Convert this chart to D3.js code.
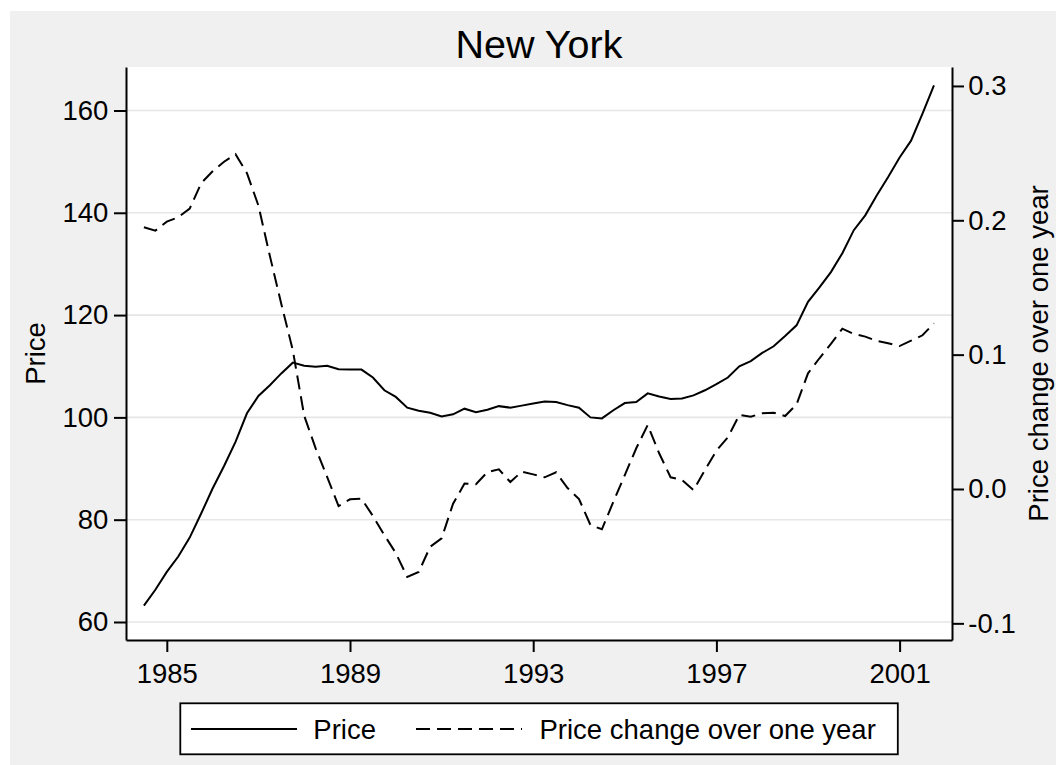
<!DOCTYPE html>
<html>
<head>
<meta charset="utf-8">
<script src="https://cdn.jsdelivr.net/npm/d3@7"></script>
<style>
    body { margin: 0; background: #ffffff; }
    svg { display: block; font-family: "Liberation Sans", Arial, sans-serif; }
</style>
</head>
<body>
<div id="chart"></div>
<script>
// quarterly index, 1984q3 .. 2001q4
var firstYear = 1984.5;
var quarterStep = 0.25;

// price index (left axis)
var price = [
    63.2, 66.3, 69.8, 72.8, 76.5, 81.2, 86.1, 90.5, 95.2, 100.8,
    104.2, 106.3, 108.6, 110.7, 110.1, 109.9, 110.1, 109.4, 109.35, 109.35,
    107.8, 105.3, 104.0, 101.9, 101.3, 100.9, 100.2, 100.6, 101.7, 101.0,
    101.5, 102.2, 101.9, 102.3, 102.7, 103.1, 103.0, 102.4, 101.9, 100.0,
    99.8, 101.4, 102.8, 103.0, 104.7, 104.1, 103.6, 103.7, 104.3, 105.3,
    106.5, 107.8, 110.0, 111.0, 112.6, 113.9, 115.9, 118.0, 122.6, 125.4,
    128.4, 132.1, 136.6, 139.5, 143.4, 147.0, 150.8, 154.1, 159.4, 164.9
];

// price change over one year (right axis)
var change = [
    0.1948, 0.1923, 0.1990, 0.2023, 0.2087, 0.2276, 0.2365, 0.2436, 0.2492, 0.2350,
    0.2110, 0.1735, 0.1377, 0.1035, 0.0545, 0.0303, 0.0091, -0.0127, -0.0077, -0.0072,
    -0.0201, -0.0343, -0.0477, -0.0655, -0.0618, -0.0430, -0.0367, -0.0110, 0.0040, 0.0035,
    0.0126, 0.0146, 0.0052, 0.0129, 0.0109, 0.0087, 0.0124, 0.0007, -0.0075, -0.0268,
    -0.0300, -0.0095, 0.0104, 0.0303, 0.0476, 0.0266, 0.0087, 0.0067, -0.0008, 0.0141,
    0.0285, 0.0385, 0.0551, 0.0538, 0.0563, 0.0568, 0.0543, 0.0630, 0.0861, 0.0973,
    0.1080, 0.1193, 0.1154, 0.1134, 0.1102, 0.1085, 0.1064, 0.1104, 0.1144, 0.1233
];

var xTicks = [1985, 1989, 1993, 1997, 2001];
var priceTicks = [60, 80, 100, 120, 140, 160];
var changeTicks = [-0.1, 0.0, 0.1, 0.2, 0.3];
var seriesNames = ["Price", "Price change over one year"];

var dates = price.map(function (d, i) { return firstYear + i * quarterStep; });

var W = 1056, H = 765;
var plot = { left: 126, right: 952, top: 67, bottom: 640 };
var fontSize = 27.5;

var svg = d3.select("#chart")
    .append("svg")
    .attr("width", W)
    .attr("height", H);

// outer gray graph region
svg.append("rect")
    .attr("x", 10).attr("y", 11)
    .attr("width", W - 10).attr("height", H - 11)
    .attr("fill", "#f0f0f0");

// white plot region
svg.append("rect")
    .attr("x", plot.left).attr("y", plot.top)
    .attr("width", plot.right - plot.left).attr("height", plot.bottom - plot.top)
    .attr("fill", "#ffffff");

var x = d3.scaleLinear()
    .domain([1984.109, 2002.144])
    .range([plot.left, plot.right]);

var yPrice = d3.scaleLinear()
    .domain([56.48, 168.5])
    .range([plot.bottom, plot.top]);

var yChange = d3.scaleLinear()
    .domain([-0.1124, 0.3141])
    .range([plot.bottom, plot.top]);

// gridlines from the left axis
svg.append("g")
    .selectAll("line")
    .data(priceTicks)
    .enter().append("line")
    .attr("x1", plot.left).attr("x2", plot.right)
    .attr("y1", function (d) { return yPrice(d); })
    .attr("y2", function (d) { return yPrice(d); })
    .attr("stroke", "#e6e6e6")
    .attr("stroke-width", 1.6);

function styleAxis(g) {
    g.attr("font-size", null).attr("font-family", null);
    g.selectAll("path, line").attr("stroke", "#000").attr("stroke-width", 2);
    g.selectAll("text").attr("fill", "#000").style("font-size", fontSize + "px");
}

svg.append("g")
    .attr("transform", "translate(" + plot.left + ",0)")
    .call(d3.axisLeft(yPrice).tickValues(priceTicks).tickSize(12).tickSizeOuter(0).tickPadding(5.7))
    .call(styleAxis);

svg.append("g")
    .attr("transform", "translate(" + plot.right + ",0)")
    .call(d3.axisRight(yChange).tickValues(changeTicks).tickSize(12).tickSizeOuter(0).tickPadding(4.3)
        .tickFormat(function (d) { return d.toFixed(1); }))
    .call(styleAxis);

svg.append("g")
    .attr("transform", "translate(0," + plot.bottom + ")")
    .call(d3.axisBottom(x).tickValues(xTicks).tickSize(12).tickSizeOuter(0).tickPadding(11.5)
        .tickFormat(d3.format("d")))
    .call(styleAxis);

// lines
var priceLine = d3.line()
    .x(function (d, i) { return x(dates[i]); })
    .y(function (d) { return yPrice(d); });

var changeLine = d3.line()
    .x(function (d, i) { return x(dates[i]); })
    .y(function (d) { return yChange(d); });

svg.append("path")
    .datum(change)
    .attr("d", changeLine)
    .attr("fill", "none")
    .attr("stroke", "#000")
    .attr("stroke-width", 2)
    .attr("stroke-dasharray", "14,7");

svg.append("path")
    .datum(price)
    .attr("d", priceLine)
    .attr("fill", "none")
    .attr("stroke", "#000")
    .attr("stroke-width", 2);

// titles
svg.append("text")
    .attr("x", (plot.left + plot.right) / 2)
    .attr("y", 58)
    .attr("text-anchor", "middle")
    .style("font-size", "39.5px")
    .text("New York");

svg.append("text")
    .attr("transform", "translate(45," + (plot.top + plot.bottom) / 2 + ") rotate(-90)")
    .attr("text-anchor", "middle")
    .style("font-size", fontSize + "px")
    .text(seriesNames[0]);

svg.append("text")
    .attr("transform", "translate(1048," + (plot.top + plot.bottom) / 2 + ") rotate(-90)")
    .attr("text-anchor", "middle")
    .style("font-size", fontSize + "px")
    .text(seriesNames[1]);

// legend
var legend = svg.append("g");
legend.append("rect")
    .attr("x", 180.3).attr("y", 703.3)
    .attr("width", 717.5).attr("height", 51)
    .attr("fill", "#fff")
    .attr("stroke", "#000")
    .attr("stroke-width", 1.8);

var legendItems = [
    { name: seriesNames[0], x1: 191, x2: 297, tx: 313.3, dash: null },
    { name: seriesNames[1], x1: 416, x2: 522, tx: 539.5, dash: "14,7" }
];

legend.selectAll(".key")
    .data(legendItems)
    .enter().append("line")
    .attr("x1", function (d) { return d.x1; })
    .attr("x2", function (d) { return d.x2; })
    .attr("y1", 729).attr("y2", 729)
    .attr("stroke", "#000")
    .attr("stroke-width", 2)
    .attr("stroke-dasharray", function (d) { return d.dash; });

legend.selectAll(".label")
    .data(legendItems)
    .enter().append("text")
    .attr("x", function (d) { return d.tx; })
    .attr("y", 739.3)
    .style("font-size", fontSize + "px")
    .text(function (d) { return d.name; });
</script>
</body>
</html>
